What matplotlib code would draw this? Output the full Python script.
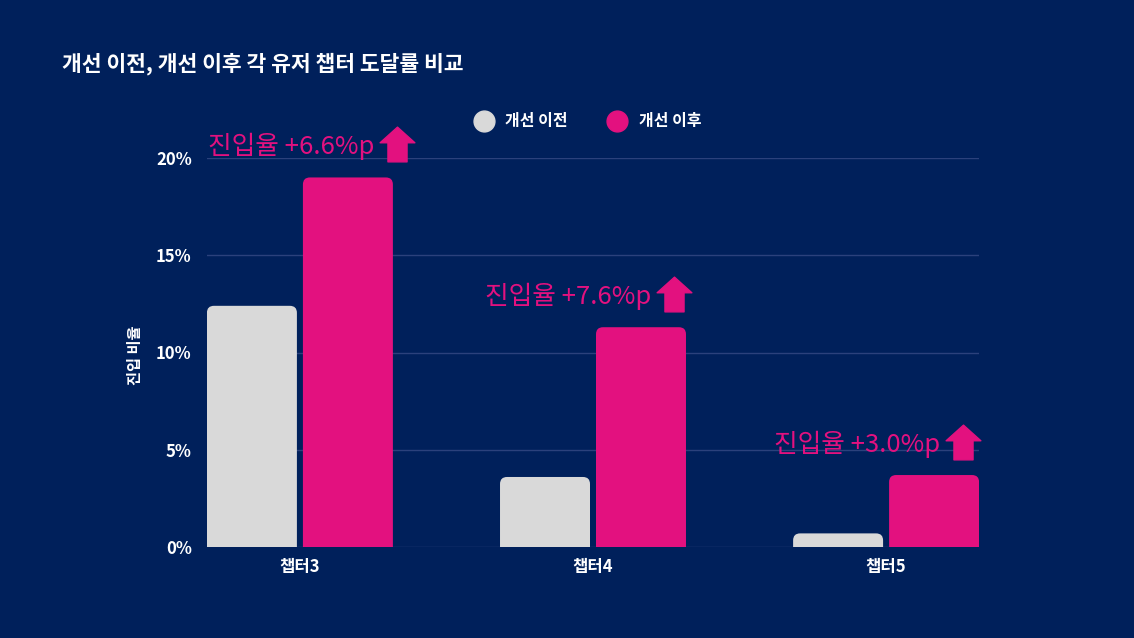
import matplotlib.pyplot as plt
from matplotlib.patches import FancyBboxPatch
from matplotlib.lines import Line2D
from matplotlib.path import Path
from matplotlib.transforms import offset_copy

plt.rcParams['font.family'] = ['Noto Sans CJK KR', 'DejaVu Sans']

# 데이터
chapters = ['챕터3', '챕터4', '챕터5']
before = [12.4, 3.6, 0.7]
after = [19.0, 11.3, 3.7]
gains = ['+6.6%p', '+7.6%p', '+3.0%p']
yticks = [0, 5, 10, 15, 20]

BG = '#00205b'
GRAY = '#d9d9d9'
PINK = '#e3117f'
GRID = '#2b417c'

fig = plt.figure(figsize=(11.34, 6.38), dpi=100, facecolor=BG)
ax = fig.add_axes([207 / 1134, 1 - 547 / 638, 772 / 1134, 389 / 638])
ax.set_facecolor(BG)

w = 0.307
gap = 0.0205
x = list(range(len(chapters)))
xb = [i - w / 2 - gap / 2 for i in x]
xa = [i + w / 2 + gap / 2 for i in x]

ax.set_xlim(-0.317, 2.317)
ax.set_ylim(0, 20)

# 막대 위치는 ax.bar 로 잡고, 모서리를 둥글게 다시 그림
bars_b = ax.bar(xb, before, width=w, color=GRAY, alpha=0)
bars_a = ax.bar(xa, after, width=w, color=PINK, alpha=0)

aspect = (772 / 2.634) / (389 / 20)
r = 7 / 293
for bars, col in [(bars_b, GRAY), (bars_a, PINK)]:
    for b in bars:
        p = FancyBboxPatch((b.get_x(), -2), b.get_width(), b.get_height() + 2,
                           boxstyle=f"round,pad=0,rounding_size={r}",
                           mutation_aspect=aspect, facecolor=col,
                           edgecolor='none', zorder=3)
        ax.add_patch(p)

for yv in yticks:
    ax.axhline(yv, color=GRID, lw=1, zorder=1)

ax.set_yticks(yticks)
ax.set_yticklabels([f'{v}%' for v in yticks], color='white',
                   fontsize=12, fontweight='bold')
ax.set_xticks(x)
ax.set_xticklabels(chapters, color='white', fontsize=12, fontweight='bold')
ax.tick_params(length=0, pad=11)
ax.tick_params(axis='x', pad=8)
for s in ax.spines.values():
    s.set_visible(False)

# 증가폭 주석 + 위쪽 화살표
arrow = Path([(-1, 0.1), (0, 1), (1, 0.1), (0.55, 0.1), (0.55, -1),
              (-0.55, -1), (-0.55, 0.1), (-1, 0.1)],
             [Path.MOVETO] + [Path.LINETO] * 6 + [Path.CLOSEPOLY])
dx_arrow = [49, 33, 29]
for i in x:
    ax.annotate(f'진입율 {gains[i]}', xy=(xa[i], after[i]),
                xytext=(dx_arrow[i] - 23, 31), textcoords='offset pixels',
                ha='right', va='center', color=PINK, fontsize=18.5,
                annotation_clip=False, zorder=5)
    tr = offset_copy(ax.transData, fig=fig, x=dx_arrow[i], y=33, units='dots')
    ax.plot([xa[i]], [after[i]], marker=arrow, markersize=25, color=PINK,
            transform=tr, clip_on=False, zorder=5)

fig.text(135 / 1134, 1 - 355 / 638, '진입 비율', color='white', fontsize=11,
         fontweight='bold', rotation=90, ha='center', va='center')

# 범례
ly = 1 - 121 / 638
fig.add_artist(Line2D([484 / 1134], [ly], marker='o', markersize=15,
                      color=GRAY, transform=fig.transFigure))
fig.text(505 / 1134, ly, '개선 이전', color='white',
         fontsize=11.5, fontweight='bold', va='center')
fig.add_artist(Line2D([617 / 1134], [ly], marker='o', markersize=15,
                      color=PINK, transform=fig.transFigure))
fig.text(639 / 1134, ly, '개선 이후', color='white',
         fontsize=11.5, fontweight='bold', va='center')

fig.text(62 / 1134, 1 - 64 / 638, '개선 이전, 개선 이후 각 유저 챕터 도달률 비교',
         color='white', fontsize=15.5, fontweight='bold', va='center')

fig.savefig('out.png', dpi=100, facecolor=BG)
